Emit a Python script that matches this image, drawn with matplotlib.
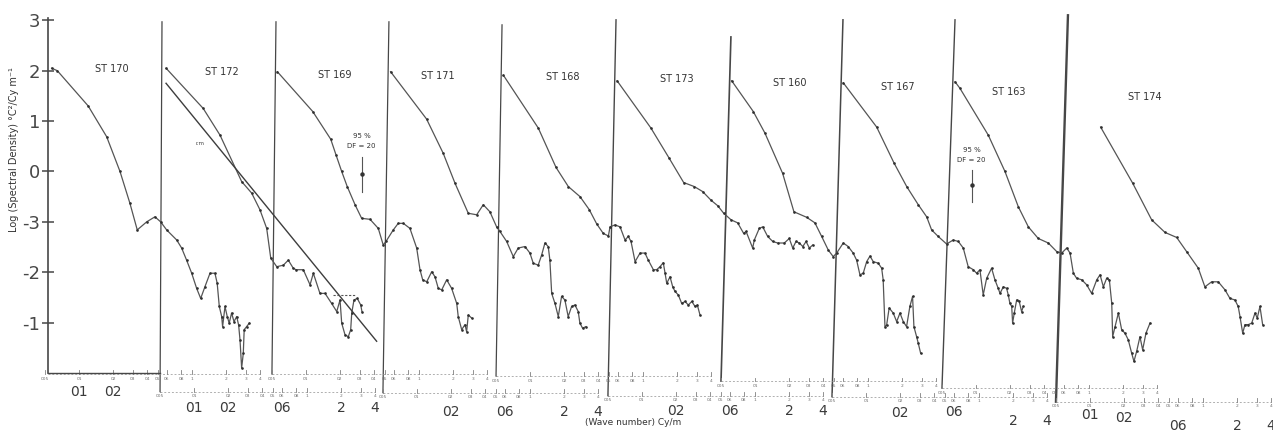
import numpy as np
import matplotlib.pyplot as plt

# station names, one spectrum per panel
stations = ['ST 170', 'ST 172', 'ST 169', 'ST 171', 'ST 168',
            'ST 173', 'ST 160', 'ST 167', 'ST 163', 'ST 174']

# x = log wavenumber offset from the panel's own axis, y = log spectral density
st170_x = [0.011, 0.049, 0.255, 0.378, 0.467, 0.533, 0.582, 0.645, 0.700, 0.738,
           0.778, 0.845, 0.878, 0.911, 0.945, 0.978, 1.005, 1.033, 1.067, 1.100,
           1.115, 1.129, 1.145, 1.151, 1.167, 1.182, 1.195, 1.211, 1.227, 1.245,
           1.258, 1.267, 1.278, 1.289, 1.295, 1.311, 1.329]
st170_y = [2.05, 2.00, 1.30, 0.69, 0.00, -0.63, -1.16, -1.00, -0.90, -1.00,
           -1.16, -1.36, -1.52, -1.76, -2.02, -2.32, -2.52, -2.29, -2.02, -2.02,
           -2.22, -2.68, -2.88, -3.08, -2.68, -2.88, -3.01, -2.81, -2.98, -2.88,
           -3.05, -3.34, -3.90, -3.61, -3.14, -3.08, -3.01]

st172_x = [0.027, 0.275, 0.387, 0.531, 0.598, 0.653, 0.698, 0.725, 0.765, 0.809,
           0.842, 0.875, 0.893, 0.942, 0.987, 1.009, 1.053, 1.087, 1.131, 1.165,
           1.187, 1.198, 1.220, 1.242, 1.258, 1.265, 1.280, 1.302, 1.325, 1.333]
st172_y = [2.05, 1.25, 0.72, -0.20, -0.43, -0.76, -1.13, -1.72, -1.89, -1.86,
           -1.76, -1.92, -1.95, -1.95, -2.25, -2.02, -2.42, -2.42, -2.62, -2.78,
           -2.55, -3.01, -3.24, -3.28, -3.14, -2.81, -2.55, -2.52, -2.65, -2.78]
# straight reference slope and dashed piece drawn in the ST 172 panel
st172_fit_x = [0.027, 1.431]
st172_fit_y = [1.75, -3.37]
st172_dash_x = [1.142, 1.287]
st172_dash_y = [-2.45, -2.45]

st169_x = [0.009, 0.245, 0.365, 0.400, 0.438, 0.475, 0.527, 0.571, 0.627, 0.682,
           0.715, 0.733, 0.782, 0.815, 0.849, 0.893, 0.938, 0.960, 0.978, 1.005,
           1.038, 1.060, 1.082, 1.105, 1.138, 1.171, 1.205, 1.215, 1.238, 1.260,
           1.271, 1.282, 1.305]
st169_y = [1.98, 1.19, 0.64, 0.33, 0.00, -0.30, -0.66, -0.93, -0.95, -1.13,
           -1.46, -1.39, -1.16, -1.03, -1.03, -1.13, -1.52, -1.95, -2.15, -2.19,
           -1.99, -2.09, -2.32, -2.35, -2.15, -2.32, -2.62, -2.88, -3.14, -3.04,
           -3.18, -2.85, -2.91]

st171_x = [0.011, 0.251, 0.362, 0.440, 0.529, 0.585, 0.629, 0.673, 0.718, 0.740,
           0.785, 0.829, 0.862, 0.907, 0.940, 0.962, 0.995, 1.018, 1.040, 1.062,
           1.073, 1.085, 1.107, 1.129, 1.151, 1.173, 1.195, 1.218, 1.240, 1.262,
           1.273, 1.291, 1.313]
st171_y = [1.98, 1.04, 0.36, -0.23, -0.83, -0.86, -0.66, -0.80, -1.10, -1.19,
           -1.39, -1.69, -1.52, -1.49, -1.62, -1.82, -1.86, -1.66, -1.42, -1.49,
           -1.76, -2.42, -2.62, -2.88, -2.48, -2.55, -2.88, -2.68, -2.65, -2.78,
           -3.01, -3.11, -3.08]

st168_x = [0.009, 0.242, 0.360, 0.442, 0.520, 0.582, 0.631, 0.675, 0.709, 0.720,
           0.753, 0.787, 0.820, 0.842, 0.860, 0.887, 0.920, 0.953, 0.975, 1.009,
           1.031, 1.053, 1.075, 1.087, 1.098, 1.120, 1.138, 1.153, 1.175, 1.198,
           1.220, 1.242, 1.265, 1.287, 1.302, 1.320]
st168_y = [1.91, 0.86, 0.08, -0.30, -0.50, -0.76, -1.04, -1.23, -1.28, -1.10,
           -1.06, -1.10, -1.36, -1.29, -1.39, -1.79, -1.62, -1.62, -1.76, -1.95,
           -1.95, -1.89, -1.81, -2.02, -2.22, -2.09, -2.29, -2.38, -2.45, -2.62,
           -2.58, -2.65, -2.58, -2.68, -2.65, -2.85]

st173_x = [0.007, 0.233, 0.355, 0.451, 0.522, 0.578, 0.633, 0.678, 0.718, 0.767,
           0.811, 0.851, 0.867, 0.911, 0.922, 0.955, 0.978, 1.011, 1.045, 1.078,
           1.122, 1.155, 1.178, 1.200, 1.222, 1.245, 1.267, 1.289, 1.311]
st173_y = [1.80, 0.86, 0.26, -0.22, -0.30, -0.40, -0.57, -0.68, -0.83, -0.96,
           -1.02, -1.23, -1.19, -1.52, -1.36, -1.13, -1.10, -1.29, -1.39, -1.42,
           -1.42, -1.33, -1.52, -1.39, -1.42, -1.49, -1.39, -1.52, -1.46]

st160_x = [0.005, 0.149, 0.227, 0.345, 0.420, 0.505, 0.560, 0.605, 0.649, 0.682,
           0.705, 0.749, 0.782, 0.815, 0.838, 0.860, 0.882, 0.905, 0.927, 0.949,
           0.982, 1.005, 1.015, 1.027, 1.038, 1.055, 1.082, 1.105, 1.127, 1.149,
           1.171, 1.193, 1.211, 1.220, 1.238, 1.249, 1.265]
st160_y = [1.80, 1.19, 0.76, -0.04, -0.80, -0.91, -1.02, -1.29, -1.56, -1.69,
           -1.62, -1.42, -1.49, -1.62, -1.76, -2.05, -2.02, -1.79, -1.68, -1.79,
           -1.82, -1.92, -2.15, -3.08, -3.05, -2.71, -2.81, -2.98, -2.81, -2.98,
           -3.08, -2.68, -2.48, -3.08, -3.28, -3.41, -3.61]

st167_x = [0.002, 0.225, 0.340, 0.425, 0.502, 0.558, 0.591, 0.635, 0.691, 0.735,
           0.769, 0.802, 0.835, 0.869, 0.891, 0.913, 0.935, 0.958, 0.991, 1.013,
           1.035, 1.047, 1.069, 1.091, 1.102, 1.113, 1.125, 1.131, 1.142, 1.158,
           1.175, 1.191, 1.202]
st167_y = [1.76, 0.88, 0.17, -0.30, -0.66, -0.90, -1.16, -1.29, -1.44, -1.36,
           -1.39, -1.52, -1.89, -1.95, -2.02, -1.95, -2.45, -2.12, -1.92, -2.15,
           -2.32, -2.42, -2.29, -2.32, -2.45, -2.62, -2.68, -3.01, -2.81, -2.55,
           -2.58, -2.78, -2.68]

st163_x = [0.000, 0.033, 0.222, 0.333, 0.422, 0.489, 0.555, 0.622, 0.678, 0.711,
           0.745, 0.767, 0.789, 0.811, 0.845, 0.878, 0.911, 0.945, 0.967, 0.989,
           1.011, 1.029, 1.045, 1.051, 1.067, 1.089, 1.111, 1.133, 1.155, 1.178,
           1.193, 1.211, 1.233, 1.251, 1.273, 1.300]
st163_y = [1.78, 1.65, 0.72, 0.00, -0.70, -1.10, -1.33, -1.42, -1.59, -1.62,
           -1.52, -1.62, -2.02, -2.12, -2.15, -2.25, -2.42, -2.15, -2.05, -2.29,
           -2.12, -2.15, -2.62, -3.28, -3.08, -2.81, -3.14, -3.21, -3.34, -3.61,
           -3.77, -3.57, -3.28, -3.54, -3.21, -3.01]

st174_x = [0.218, 0.431, 0.558, 0.647, 0.725, 0.791, 0.869, 0.913, 0.958, 1.002,
           1.047, 1.080, 1.113, 1.135, 1.147, 1.165, 1.180, 1.202, 1.225, 1.247,
           1.262, 1.280, 1.298]
st174_y = [0.88, -0.23, -0.96, -1.21, -1.31, -1.59, -1.92, -2.29, -2.19, -2.19,
           -2.35, -2.52, -2.55, -2.68, -2.88, -3.21, -3.04, -3.04, -3.01, -2.81,
           -2.91, -2.68, -3.04]

spectra_x = [st170_x, st172_x, st169_x, st171_x, st168_x,
             st173_x, st160_x, st167_x, st163_x, st174_x]
spectra_y = [st170_y, st172_y, st169_y, st171_y, st168_y,
             st173_y, st160_y, st167_y, st163_y, st174_y]

# left axis tick values and the labels printed on them
ytick_vals = [3, 2, 1, 0, -1, -2, -3]
ytick_text = ['3', '2', '1', '0', '-3', '-2', '-1']

# wavenumber ruler under each panel (cy/m)
ruler_k = [0.005, 0.01, 0.02, 0.03, 0.04, 0.05, 0.06, 0.08, 0.1, 0.2, 0.3, 0.4]
ruler_txt = ['005', '01', '02', '03', '04', '05', '06', '08', '1', '2', '3', '4']
big_k = {0: [0.01, 0.02],
         1: [0.01, 0.02, 0.06, 0.2, 0.4],
         3: [0.02, 0.06, 0.2, 0.4],
         5: [0.02, 0.06, 0.2, 0.4],
         7: [0.02, 0.06, 0.2, 0.4],
         9: [0.01, 0.02, 0.06, 0.2, 0.4]}
big_txt = {0: ['01', '02'],
           1: ['01', '02', '06', '2', '4'],
           3: ['02', '06', '2', '4'],
           5: ['02', '06', '2', '4'],
           7: ['02', '06', '2', '4'],
           9: ['01', '02', '06', '2', '4']}

# ---- layout of the staggered panels ----
panel_top_x = [0.333, 1.080, 1.840, 2.593, 3.347, 4.107, 4.873, 5.620, 6.367, 7.120]
panel_bot_x = [0.300, 1.067, 1.813, 2.553, 3.307, 4.053, 4.807, 5.547, 6.280, 7.040]
panel_top_y = [3.05, 2.97, 2.97, 2.97, 2.91, 3.01, 2.67, 3.01, 3.01, 3.10]
ruler_y = [-4.02, -4.37, -4.02, -4.39, -4.06, -4.45, -4.16, -4.47, -4.30, -4.57]
big_y = {0: [-4.37] * 2, 1: [-4.69] * 5, 3: [-4.77] * 4, 5: [-4.75] * 4,
         7: [-4.79, -4.77, -4.95, -4.95], 9: [-4.83, -4.89, -5.06, -5.06, -5.06]}
panel_lw = [1.0, 0.9, 0.9, 0.9, 0.9, 1.0, 1.2, 1.1, 1.0, 1.7]
label_x = [0.747, 1.480, 2.233, 2.920, 3.753, 4.513, 5.267, 5.987, 6.727, 7.633]
label_y = [2.03, 1.97, 1.91, 1.89, 1.87, 1.83, 1.76, 1.68, 1.58, 1.48]
DEC = 113 / 150  # panel units per decade of wavenumber

ink = '#474747'

fig = plt.figure(figsize=(12.73, 4.36), dpi=100)
ax = fig.add_axes([48 / 1273, 63 / 436, 1225 / 1273, 373 / 436])
ax.set_xlim(0.32, 8.487)
ax.set_ylim(-4.0, 3.403)

for s in ['top', 'right']:
    ax.spines[s].set_visible(False)
ax.spines['left'].set_bounds(-4.0, 3.05)
ax.spines['left'].set_color(ink)
ax.spines['left'].set_linewidth(1.2)
ax.spines['bottom'].set_bounds(0.32, 1.067)
ax.spines['bottom'].set_color(ink)
ax.spines['bottom'].set_linewidth(1.0)
ax.set_xticks([])
ax.set_yticks(ytick_vals)
ax.set_yticklabels(ytick_text)
ax.tick_params(axis='y', direction='inout', length=9, width=1.1,
               labelsize=13, colors=ink, pad=1)

ax.set_ylabel('Log (Spectral Density) °C²/Cy m⁻¹', fontsize=7, color='#333333')
ax.yaxis.set_label_coords(-0.0235, 0.60)

# panel axes (slanted in the original print)
for i in range(1, 10):
    ax.plot([panel_top_x[i], panel_bot_x[i]], [panel_top_y[i], ruler_y[i]],
            color=ink, lw=panel_lw[i], clip_on=False)

# spectra
for i in range(10):
    xs = panel_top_x[i] + np.array(spectra_x[i])
    ax.plot(xs, spectra_y[i], color='#555555', lw=0.9, marker='o', ms=1.9,
            mfc='#2e2e2e', mec='none', clip_on=False)
    ax.text(label_x[i], label_y[i], stations[i], fontsize=7, color='#333333',
            ha='center', va='center')

ax.plot(panel_top_x[1] + np.array(st172_fit_x), st172_fit_y, color='#3d3d3d', lw=1.0)
ax.plot(panel_top_x[1] + np.array(st172_dash_x), st172_dash_y, color='#555555',
        lw=0.8, ls=(0, (2, 1.5)))
ax.text(1.333, 0.55, 'r.m', fontsize=4, color='#444444', ha='center', va='center')

# 95 % confidence bars
for cx, ty, b0, b1, dot in [(2.411, 0.71, 0.29, -0.40, -0.05),
                            (6.478, 0.43, 0.03, -0.60, -0.27)]:
    ax.text(cx, ty, '95 %', fontsize=5, color='#333333', ha='center', va='center')
    ax.text(cx, ty - 0.21, 'DF = 20', fontsize=5, color='#333333',
            ha='center', va='center')
    ax.plot([cx, cx], [b0, b1], color='#555555', lw=0.8)
    ax.plot([cx], [dot], 'o', color='#333333', ms=2.2)

# wavenumber rulers
for i in range(10):
    x0 = panel_bot_x[i]
    pos = x0 + np.log10(np.array(ruler_k) / ruler_k[0]) * DEC
    ax.plot([max(x0, 0.32), pos[-1]], [ruler_y[i]] * 2, color='#9a9a9a', lw=0.55,
            ls=(0, (2.5, 2.5)), clip_on=False)
    for p, t in zip(pos, ruler_txt):
        ax.plot([p, p], [ruler_y[i], ruler_y[i] + 0.07], color='#808080', lw=0.6,
                clip_on=False)
        ax.text(p, ruler_y[i] - 0.05, t, fontsize=3.2, color='#707070',
                ha='center', va='top', clip_on=False)
    if i in big_k:
        for k, t, yy in zip(big_k[i], big_txt[i], big_y[i]):
            p = x0 + np.log10(k / ruler_k[0]) * DEC
            ax.text(p, yy, t, fontsize=10, color='#3a3a3a', ha='center',
                    va='center', clip_on=False)

ax.text(4.22, -4.99, '(Wave number) Cy/m', fontsize=6.5, color='#333333',
        ha='center', va='center', clip_on=False)

fig.savefig('out.png', dpi=100)
